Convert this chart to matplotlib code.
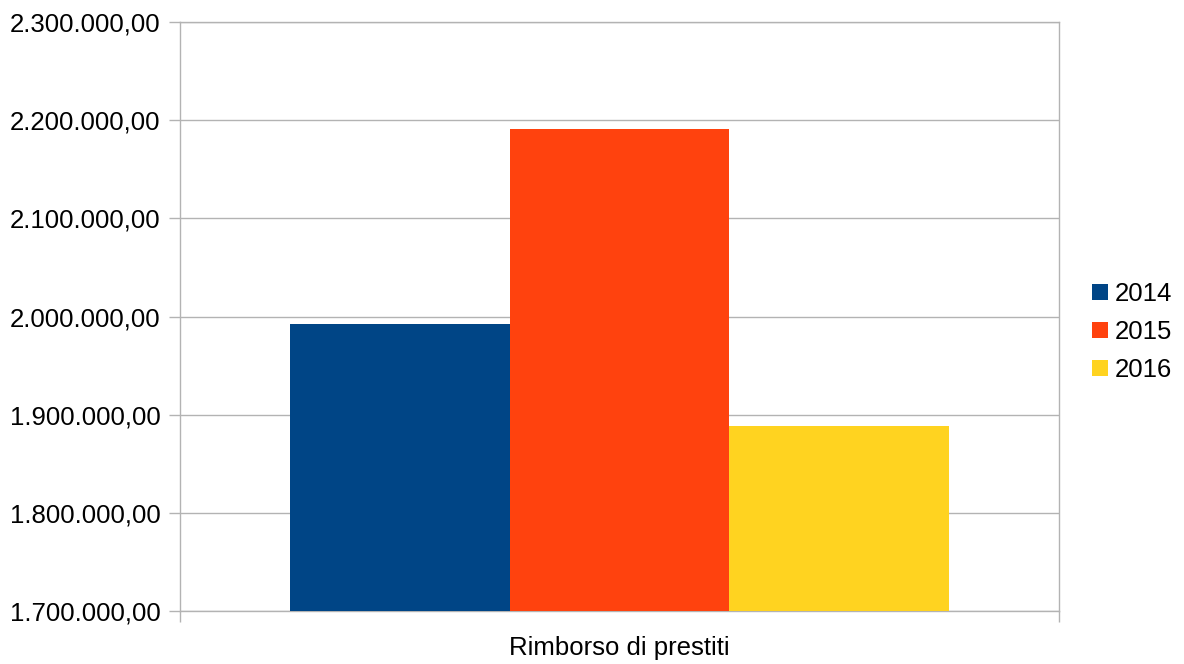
import matplotlib.pyplot as plt
from matplotlib.ticker import FuncFormatter, FixedLocator

# data
category = "Rimborso di prestiti"
years = ["2014", "2015", "2016"]
values = [1992500, 2191500, 1888800]
colors = ["#004586", "#ff420e", "#ffd320"]

plt.rcParams['font.family'] = ['Liberation Sans', 'DejaVu Sans']
grid_col = "#b3b3b3"

fig = plt.figure(figsize=(11.84, 6.64), dpi=100)
ax = fig.add_axes([180 / 1184, 53 / 664, 879 / 1184, 589 / 664])

width = 0.25
offsets = [-0.25, 0.0, 0.25]
for off, v, c, y in zip(offsets, values, colors, years):
    ax.bar(off, v, width=width, color=c, label=y, zorder=3)

ax.set_xlim(-0.5, 0.5)
ax.set_ylim(1700000, 2300000)
ax.set_yticks(range(1700000, 2300001, 100000))


def it_fmt(v, pos):
    s = f"{v:,.2f}"
    return s.replace(",", "X").replace(".", ",").replace("X", ".")


ax.yaxis.set_major_formatter(FuncFormatter(it_fmt))
ax.grid(axis='y', color=grid_col, linewidth=1, zorder=0)

ax.set_xticks([0])
ax.set_xticklabels([category])
ax.tick_params(axis='x', which='major', length=0, labelsize=18.5, pad=18)
ax.xaxis.set_minor_locator(FixedLocator([-0.5, 0.5]))
ax.tick_params(axis='x', which='minor', length=8, color=grid_col, width=1)
ax.tick_params(axis='y', length=8, color=grid_col, width=1, labelsize=18.5, pad=6)

for sp in ax.spines.values():
    sp.set_color(grid_col)
    sp.set_linewidth(1)

ax.legend(loc='center left', bbox_to_anchor=(1069 / 1184, 0.5), bbox_transform=fig.transFigure,
          frameon=False, fontsize=18.5, handlelength=0.6, handleheight=0.6,
          handletextpad=0.3, labelspacing=0.55)

fig.savefig("out.png", dpi=100)
